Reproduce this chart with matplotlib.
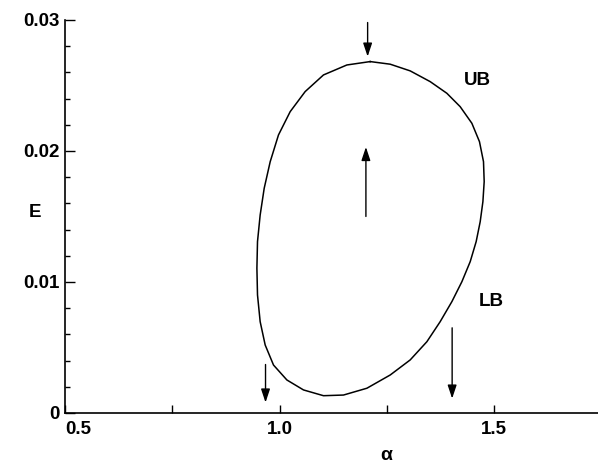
import numpy as np
import matplotlib
matplotlib.use('Agg')
import matplotlib.pyplot as plt
from matplotlib.ticker import MultipleLocator, FixedLocator

plt.rcParams['font.family'] = ['Liberation Sans', 'DejaVu Sans']

# closed boundary curve (alpha, E), clockwise from the top
curve_a = [1.2110, 1.2576, 1.3042, 1.3508, 1.3897, 1.4207, 1.4480, 1.4657, 1.4751,
           1.4767, 1.4737, 1.4674, 1.4580, 1.4441, 1.4247, 1.4014, 1.3741, 1.3431,
           1.3042, 1.2576, 1.2033, 1.1487, 1.1021, 1.0555, 1.0168, 0.9856, 0.9662,
           0.9545, 0.9483, 0.9469, 0.9483, 0.9545, 0.9639, 0.9779, 0.9972, 1.0245,
           1.0594, 1.1021, 1.1566, 1.2110]
curve_E = [0.02682, 0.02662, 0.02611, 0.02529, 0.02440, 0.02338, 0.02211, 0.02071,
           0.01918, 0.01766, 0.01613, 0.01460, 0.01308, 0.01155, 0.01002, 0.00850,
           0.00697, 0.00544, 0.00405, 0.00290, 0.00189, 0.00137, 0.00132, 0.00176,
           0.00252, 0.00366, 0.00519, 0.00697, 0.00901, 0.01105, 0.01308, 0.01511,
           0.01715, 0.01918, 0.02122, 0.02300, 0.02453, 0.02580, 0.02656, 0.02682]

# arrows: x position, start and end of E
arrow_a = [1.205, 1.201, 0.967, 1.402]
arrow_E_from = [0.0298, 0.0150, 0.0037, 0.0065]
arrow_E_to = [0.0272, 0.0203, 0.0008, 0.0011]

# curve labels
label_text = ['UB', 'LB']
label_a = [1.460, 1.493]
label_E = [0.0254, 0.0085]

x_major = [0.5, 0.75, 1.0, 1.25, 1.5]
x_ticklabels = ['0.5', '', '1.0', '', '1.5']
y_major = [0, 0.01, 0.02, 0.03]
y_ticklabels = ['0', '0.01', '0.02', '0.03']

fig = plt.figure(figsize=(5.98, 4.63), dpi=100)
ax = fig.add_axes([0.109, 0.108, 0.891, 0.849])

ax.plot(curve_a, curve_E, color='black', lw=1.1, solid_joinstyle='round')

for a, e0, e1 in zip(arrow_a, arrow_E_from, arrow_E_to):
    ax.annotate('', xy=(a, e1), xytext=(a, e0),
                arrowprops=dict(arrowstyle='-|>,head_length=0.45,head_width=0.15',
                                color='black', lw=1.0, mutation_scale=18,
                                shrinkA=0, shrinkB=0))

for t, a, e in zip(label_text, label_a, label_E):
    ax.text(a, e, t, ha='center', va='center', fontsize=13.5, fontweight='bold')

ax.set_xlim(0.5, 1.742)
ax.set_ylim(0, 0.03)

ax.spines['top'].set_visible(False)
ax.spines['right'].set_visible(False)
ax.spines['left'].set_linewidth(1.2)
ax.spines['bottom'].set_linewidth(1.2)

ax.xaxis.set_major_locator(FixedLocator(x_major))
ax.set_xticklabels(x_ticklabels)
ax.yaxis.set_major_locator(FixedLocator(y_major))
ax.set_yticklabels(y_ticklabels)
ax.yaxis.set_minor_locator(MultipleLocator(0.002))

ax.tick_params(axis='x', which='major', direction='in', length=6, width=1, pad=6,
               labelsize=13.5)
ax.tick_params(axis='y', which='major', direction='in', length=7, width=1, pad=4,
               labelsize=13.5)
ax.tick_params(axis='y', which='minor', direction='in', length=3.5, width=1)
for lab in ax.get_xticklabels() + ax.get_yticklabels():
    lab.set_fontweight('bold')
ax.get_xticklabels()[0].set_horizontalalignment('left')

ax.set_xlabel('α', fontsize=14, fontweight='bold')
ax.xaxis.set_label_coords(0.603, -0.107)
ax.set_ylabel('E', fontsize=13.5, fontweight='bold', rotation=0)
ax.yaxis.set_label_coords(-0.056, 0.509)
ax.xaxis.label.set_verticalalignment('center')
ax.yaxis.label.set_verticalalignment('center')

fig.savefig('out.png', dpi=100)
